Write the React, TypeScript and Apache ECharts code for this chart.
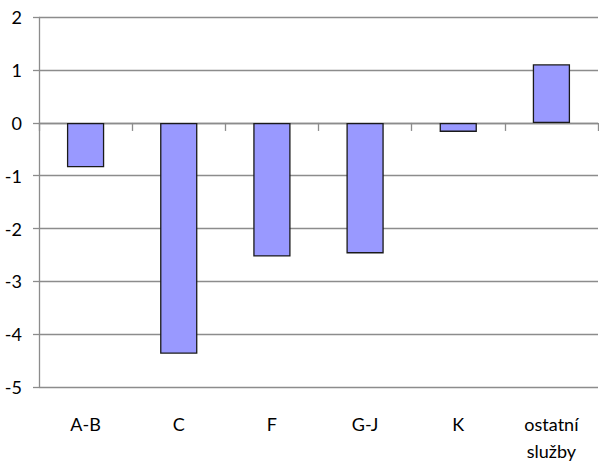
import React, { useEffect, useRef } from "react";
import * as echarts from "echarts";

const categories = ["A-B", "C", "F", "G-J", "K", "ostatní\nslužby"];
const values = [-0.84, -4.37, -2.53, -2.47, -0.17, 1.11];
const yMin = -5;
const yMax = 2;
const yStep = 1;

const FONT = "Lato, 'Open Sans', sans-serif";
const GRID_COLOR = "#8c8c8c";

export default function App() {
  const ref = useRef<HTMLDivElement>(null);

  useEffect(() => {
    document.body.style.margin = "0";
    if (!ref.current) return;
    const chart = echarts.init(ref.current, undefined, { renderer: "svg" });
    chart.setOption({
      animation: false,
      backgroundColor: "#ffffff",
      grid: { left: 39, right: 1, top: 17.3, bottom: 73, containLabel: false },
      xAxis: [
        {
          // category labels sit below the plot area
          type: "category",
          data: categories,
          position: "bottom",
          axisLine: { show: false, onZero: false },
          axisTick: { show: false },
          splitLine: { show: false },
          axisLabel: {
            margin: 23,
            color: "#000",
            fontFamily: FONT,
            fontSize: 18,
            lineHeight: 27,
            interval: 0,
          },
        },
        {
          // axis line and ticks drawn through zero
          type: "category",
          data: categories,
          position: "bottom",
          axisLine: {
            show: true,
            onZero: true,
            onZeroAxisIndex: 0,
            lineStyle: { color: GRID_COLOR, width: 1.3 },
          },
          axisTick: {
            show: true,
            length: 8,
            lineStyle: { color: GRID_COLOR, width: 1.3 },
          },
          axisLabel: { show: false },
          splitLine: { show: false },
        },
      ],
      yAxis: {
        type: "value",
        min: yMin,
        max: yMax,
        interval: yStep,
        axisLine: { show: true, lineStyle: { color: GRID_COLOR, width: 1.3 } },
        axisTick: { show: true, length: 6, lineStyle: { color: GRID_COLOR, width: 1.3 } },
        splitLine: { show: true, lineStyle: { color: GRID_COLOR, width: 1.3 } },
        axisLabel: {
          color: "#000",
          fontFamily: FONT,
          fontSize: 18,
          margin: 17,
        },
      },
      series: [
        {
          type: "bar",
          xAxisIndex: 0,
          data: values,
          barWidth: "40%",
          itemStyle: { color: "#9999ff", borderColor: "#1a1a1a", borderWidth: 1.3 },
        },
      ],
    });
    return () => chart.dispose();
  }, []);

  return <div ref={ref} style={{ width: 599, height: 464 }} />;
}
